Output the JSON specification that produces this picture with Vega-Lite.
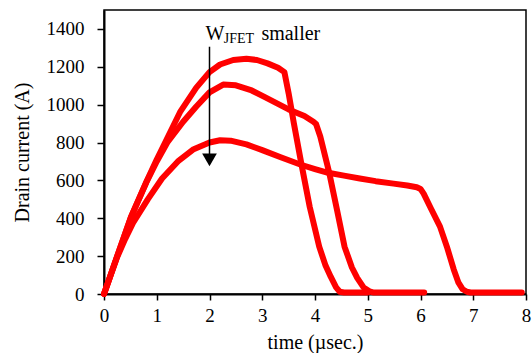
{
  "$schema": "https://vega.github.io/schema/vega-lite/v6.json",
  "autosize": {"type": "none"},
  "width": 422,
  "height": 284,
  "padding": {"left": 104, "top": 10, "right": 6, "bottom": 59},
  "background": "white",
  "config": {
    "font": "Liberation Serif",
    "view": {"stroke": "black", "strokeWidth": 1.5},
    "axis": {
      "grid": false,
      "domainColor": "black",
      "domainWidth": 2,
      "tickColor": "black",
      "tickWidth": 1.5,
      "labelColor": "black",
      "titleColor": "black",
      "labelFont": "Liberation Serif",
      "titleFont": "Liberation Serif",
      "labelFontSize": 19,
      "titleFontSize": 20,
      "titleFontWeight": "normal"
    }
  },
  "datasets": {
    "curves": [
      {"s": "A", "t": 0, "i": 0}, {"s": "A", "t": 0.25, "i": 200}, {"s": "A", "t": 0.51, "i": 405}, {"s": "A", "t": 0.8, "i": 590}, {"s": "A", "t": 1.0, "i": 710}, {"s": "A", "t": 1.18, "i": 812}, {"s": "A", "t": 1.45, "i": 965}, {"s": "A", "t": 1.75, "i": 1090}, {"s": "A", "t": 2.0, "i": 1172}, {"s": "A", "t": 2.2, "i": 1212}, {"s": "A", "t": 2.45, "i": 1236}, {"s": "A", "t": 2.7, "i": 1242}, {"s": "A", "t": 2.9, "i": 1236}, {"s": "A", "t": 3.1, "i": 1218}, {"s": "A", "t": 3.3, "i": 1195}, {"s": "A", "t": 3.42, "i": 1172}, {"s": "A", "t": 3.5, "i": 1060}, {"s": "A", "t": 3.6, "i": 900}, {"s": "A", "t": 3.74, "i": 690}, {"s": "A", "t": 3.9, "i": 460}, {"s": "A", "t": 4.08, "i": 250}, {"s": "A", "t": 4.2, "i": 150}, {"s": "A", "t": 4.3, "i": 90}, {"s": "A", "t": 4.4, "i": 35}, {"s": "A", "t": 4.47, "i": 12}, {"s": "A", "t": 4.55, "i": 8}, {"s": "A", "t": 5.0, "i": 8},
      {"s": "B", "t": 0, "i": 0}, {"s": "B", "t": 0.25, "i": 200}, {"s": "B", "t": 0.51, "i": 405}, {"s": "B", "t": 0.8, "i": 588}, {"s": "B", "t": 1.0, "i": 700}, {"s": "B", "t": 1.2, "i": 800}, {"s": "B", "t": 1.5, "i": 910}, {"s": "B", "t": 1.75, "i": 990}, {"s": "B", "t": 2.0, "i": 1065}, {"s": "B", "t": 2.26, "i": 1106}, {"s": "B", "t": 2.5, "i": 1102}, {"s": "B", "t": 2.8, "i": 1075}, {"s": "B", "t": 3.05, "i": 1040}, {"s": "B", "t": 3.5, "i": 975}, {"s": "B", "t": 3.8, "i": 940}, {"s": "B", "t": 3.97, "i": 910}, {"s": "B", "t": 4.02, "i": 898}, {"s": "B", "t": 4.1, "i": 832}, {"s": "B", "t": 4.27, "i": 640}, {"s": "B", "t": 4.42, "i": 440}, {"s": "B", "t": 4.56, "i": 250}, {"s": "B", "t": 4.7, "i": 140}, {"s": "B", "t": 4.8, "i": 85}, {"s": "B", "t": 4.92, "i": 35}, {"s": "B", "t": 5.03, "i": 14}, {"s": "B", "t": 5.1, "i": 8}, {"s": "B", "t": 6.07, "i": 8},
      {"s": "C", "t": 0, "i": 0}, {"s": "C", "t": 0.25, "i": 195}, {"s": "C", "t": 0.4, "i": 290}, {"s": "C", "t": 0.55, "i": 375}, {"s": "C", "t": 0.83, "i": 500}, {"s": "C", "t": 1.1, "i": 610}, {"s": "C", "t": 1.4, "i": 700}, {"s": "C", "t": 1.7, "i": 765}, {"s": "C", "t": 2.0, "i": 800}, {"s": "C", "t": 2.2, "i": 812}, {"s": "C", "t": 2.4, "i": 810}, {"s": "C", "t": 2.7, "i": 790}, {"s": "C", "t": 3.0, "i": 760}, {"s": "C", "t": 3.35, "i": 722}, {"s": "C", "t": 3.72, "i": 684}, {"s": "C", "t": 4.0, "i": 660}, {"s": "C", "t": 4.25, "i": 640}, {"s": "C", "t": 4.55, "i": 625}, {"s": "C", "t": 4.85, "i": 610}, {"s": "C", "t": 5.15, "i": 596}, {"s": "C", "t": 5.49, "i": 583}, {"s": "C", "t": 5.75, "i": 573}, {"s": "C", "t": 5.93, "i": 564}, {"s": "C", "t": 6.0, "i": 555}, {"s": "C", "t": 6.06, "i": 530}, {"s": "C", "t": 6.2, "i": 450}, {"s": "C", "t": 6.37, "i": 356}, {"s": "C", "t": 6.5, "i": 250}, {"s": "C", "t": 6.63, "i": 130}, {"s": "C", "t": 6.72, "i": 60}, {"s": "C", "t": 6.8, "i": 25}, {"s": "C", "t": 6.88, "i": 12}, {"s": "C", "t": 6.95, "i": 8}, {"s": "C", "t": 7.92, "i": 8}
    ],
    "arrow": [{"t": 2, "top": 1306, "bottom": 712, "tip": 708}],
    "labels": [
      {"t": 1.922, "i": 1342, "txt": "W", "kind": "main"},
      {"t": 2.984, "i": 1342, "txt": "smaller", "kind": "main"},
      {"t": 2.27, "i": 1324, "txt": "JFET", "kind": "sub"}
    ]
  },
  "layer": [
    {
      "data": {"name": "curves"},
      "mark": {"type": "line", "strokeWidth": 6, "color": "#ff0000", "strokeJoin": "round", "strokeCap": "round"},
      "encoding": {
        "x": {
          "field": "t", "type": "quantitative",
          "scale": {"domain": [0, 8], "nice": false},
          "axis": {"values": [0, 1, 2, 3, 4, 5, 6, 7, 8], "format": "d", "title": "time (µsec.)", "labelFont": "Liberation Serif", "titleFont": "Liberation Serif", "tickSize": 6, "labelPadding": 6, "titlePadding": 7, "labelFlush": false}
        },
        "y": {
          "field": "i", "type": "quantitative",
          "scale": {"domain": [0, 1500], "nice": false},
          "axis": {"values": [0, 200, 400, 600, 800, 1000, 1200, 1400], "format": "d", "title": "Drain current (A)", "labelFont": "Liberation Serif", "titleFont": "Liberation Serif", "tickSize": 7, "labelPadding": 13, "titlePadding": 14}
        },
        "detail": {"field": "s", "type": "nominal"}
      }
    },
    {
      "data": {"name": "arrow"},
      "mark": {"type": "rule", "color": "black", "strokeWidth": 1.5},
      "encoding": {
        "x": {"field": "t", "type": "quantitative"},
        "y": {"field": "top", "type": "quantitative"},
        "y2": {"field": "bottom"}
      }
    },
    {
      "data": {"name": "arrow"},
      "mark": {"type": "point", "shape": "triangle-down", "filled": true, "color": "black", "size": 216, "opacity": 1},
      "encoding": {
        "x": {"field": "t", "type": "quantitative"},
        "y": {"field": "tip", "type": "quantitative"}
      }
    },
    {
      "data": {"name": "labels"},
      "transform": [{"filter": "datum.kind === 'main'"}],
      "mark": {"type": "text", "align": "left", "baseline": "alphabetic", "font": "Liberation Serif", "fontSize": 20, "color": "black"},
      "encoding": {
        "x": {"field": "t", "type": "quantitative"},
        "y": {"field": "i", "type": "quantitative"},
        "text": {"field": "txt"}
      }
    },
    {
      "data": {"name": "labels"},
      "transform": [{"filter": "datum.kind === 'sub'"}],
      "mark": {"type": "text", "align": "left", "baseline": "alphabetic", "font": "Liberation Serif", "fontSize": 14, "color": "black"},
      "encoding": {
        "x": {"field": "t", "type": "quantitative"},
        "y": {"field": "i", "type": "quantitative"},
        "text": {"field": "txt"}
      }
    }
  ]
}
